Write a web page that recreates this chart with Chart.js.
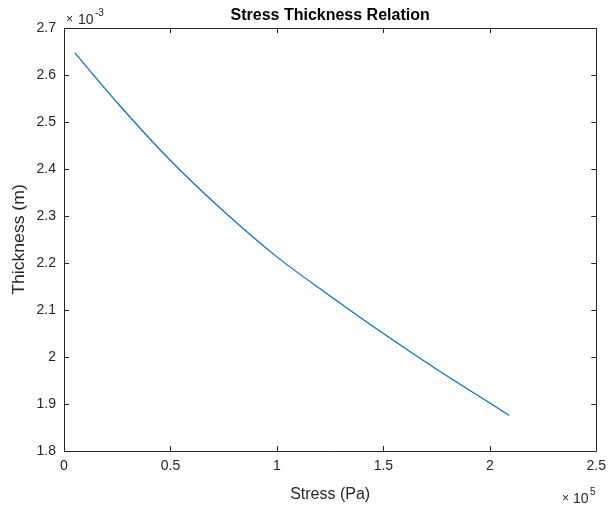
<!DOCTYPE html>
<html>
<head>
<meta charset="utf-8">
<script src="https://cdn.jsdelivr.net/npm/chart.js@4"></script>
<style>
  body { margin: 0; background: #fff; }
  #wrap { width: 613px; height: 508px; }
</style>
</head>
<body>
<div id="wrap"><canvas id="chart" width="613" height="508"></canvas></div>
<script>
// stress in Pa, thickness in m
const stressPa = [5100, 25000, 50000, 75000, 100000, 125000, 150000, 175000, 200000, 209000];
const thicknessM = [0.002647, 0.002541, 0.002418, 0.002310, 0.002213, 0.002130, 0.002050, 0.001974, 0.001902, 0.001876];
const xTicks = [0, 50000, 100000, 150000, 200000, 250000];
const yTicks = [0.0018, 0.0019, 0.0020, 0.0021, 0.0022, 0.0023, 0.0024, 0.0025, 0.0026, 0.0027];

const AXIS = '#262626';
const FONT = '"Liberation Sans", Arial, sans-serif';

function fmt(v) {
    return String(Math.round(v * 10) / 10);
}

// box, inward ticks, title and exponent labels
const matlabAxes = {
    id: 'matlabAxes',
    afterDraw(chart) {
        const ctx = chart.ctx;
        const a = chart.chartArea;
        const xs = chart.scales.x, ys = chart.scales.y;
        ctx.save();
        ctx.strokeStyle = AXIS;
        ctx.lineWidth = 1;
        ctx.beginPath();
        ctx.rect(Math.round(a.left) + 0.5, Math.round(a.top) + 0.5,
            Math.round(a.right - a.left), Math.round(a.bottom - a.top));
        ctx.stroke();
        const t = 5;
        ctx.beginPath();
        xTicks.forEach(v => {
            const px = Math.round(xs.getPixelForValue(v)) + 0.5;
            ctx.moveTo(px, a.bottom); ctx.lineTo(px, a.bottom - t);
            ctx.moveTo(px, a.top); ctx.lineTo(px, a.top + t);
        });
        yTicks.forEach(v => {
            const py = Math.round(ys.getPixelForValue(v)) + 0.5;
            ctx.moveTo(a.left, py); ctx.lineTo(a.left + t, py);
            ctx.moveTo(a.right, py); ctx.lineTo(a.right - t, py);
        });
        ctx.stroke();

        ctx.fillStyle = '#000';
        ctx.font = 'bold 16px ' + FONT;
        ctx.textAlign = 'center';
        ctx.textBaseline = 'alphabetic';
        ctx.fillText('Stress Thickness Relation', (a.left + a.right) / 2, 20);

        ctx.fillStyle = AXIS;
        ctx.font = '16px ' + FONT;
        ctx.fillText('Stress (Pa)', (a.left + a.right) / 2, 499);
        ctx.save();
        ctx.translate(24, (a.top + a.bottom) / 2);
        ctx.rotate(-Math.PI / 2);
        ctx.scale(1.1, 1);
        ctx.fillText('Thickness (m)', 0, 0);
        ctx.restore();

        ctx.textAlign = 'left';
        ctx.font = '12px ' + FONT;
        ctx.fillText('\u00d7', 66, 23);
        ctx.font = '14px ' + FONT;
        ctx.fillText('10', 78, 24);
        ctx.font = '10px ' + FONT;
        ctx.fillText('-3', 95, 16);
        ctx.font = '12px ' + FONT;
        ctx.fillText('\u00d7', 562, 502);
        ctx.font = '14px ' + FONT;
        ctx.fillText('10', 573, 503);
        ctx.font = '10px ' + FONT;
        ctx.fillText('5', 590, 495);
        ctx.restore();
    }
};

new Chart(document.getElementById('chart').getContext('2d'), {
    type: 'scatter',
    data: {
        datasets: [{
            data: stressPa.map((x, i) => ({ x: x, y: thicknessM[i] })),
            showLine: true,
            borderColor: '#0072BD',
            borderWidth: 1.2,
            pointRadius: 0,
            cubicInterpolationMode: 'monotone',
            fill: false
        }]
    },
    options: {
        responsive: false,
        animation: false,
        layout: { padding: { left: 0, right: 13, top: 28, bottom: 0 } },
        plugins: { legend: { display: false }, title: { display: false }, tooltip: { enabled: false } },
        scales: {
            x: {
                type: 'linear',
                min: 0, max: 250000,
                afterBuildTicks: s => { s.ticks = xTicks.map(v => ({ value: v })); },
                afterFit: s => { s.height = 57; },
                grid: { display: false, drawTicks: false },
                border: { display: false },
                ticks: {
                    padding: 7,
                    color: AXIS,
                    font: { family: FONT, size: 14 },
                    maxRotation: 0,
                    callback: v => fmt(v / 1e5)
                }
            },
            y: {
                type: 'linear',
                min: 0.0018, max: 0.0027,
                afterBuildTicks: s => { s.ticks = yTicks.map(v => ({ value: v })); },
                afterFit: s => { s.width = 64; },
                grid: { display: false, drawTicks: false },
                border: { display: false },
                ticks: {
                    padding: 8,
                    color: AXIS,
                    font: { family: FONT, size: 14 },
                    callback: v => fmt(v * 1e3)
                }
            }
        }
    },
    plugins: [matlabAxes]
});
</script>
</body>
</html>
